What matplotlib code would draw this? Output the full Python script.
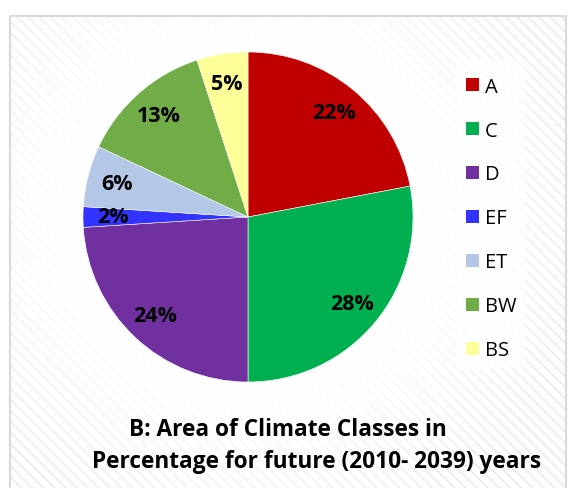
import numpy as np
import matplotlib
matplotlib.use("Agg")
import matplotlib.pyplot as plt
from matplotlib.patches import Rectangle, Patch

classes = ["A", "C", "D", "EF", "ET", "BW", "BS"]
shares = [22, 28, 24, 2, 6, 13, 5]
colors = ["#C00000", "#00B050", "#7030A0", "#3333FF", "#B4C7E7", "#70AD47", "#FFFF99"]
title_lines = ["B: Area of Climate Classes in",
               "Percentage for future (2010- 2039) years"]

plt.rcParams['font.family'] = ['Open Sans', 'DejaVu Sans']
plt.rcParams['hatch.linewidth'] = 1.2

W, H = 571, 489
fig = plt.figure(figsize=(W / 100, H / 100), dpi=100)
fig.patch.set_facecolor("white")

# background frame with light diagonal stripes and a white glow in the middle
bg = fig.add_axes([0, 0, 1, 1])
bg.set_xlim(0, W)
bg.set_ylim(H, 0)
bg.axis("off")
bg.add_patch(Rectangle((10, 17), 556, 480, facecolor="white",
                       edgecolor="#ebebeb", linewidth=0, hatch="\\\\\\"))
yy, xx = np.mgrid[0:H, 0:W]
d = np.hypot(xx - 250, yy - 215)
glow = np.zeros((H, W, 4))
glow[..., :3] = 1.0
glow[..., 3] = np.clip(1.25 - (d / 300.0) ** 2, 0, 1)
bg.imshow(glow, extent=(0, W, H, 0), zorder=2)
bg.add_patch(Rectangle((10, 17), 556, 480, facecolor="none",
                       edgecolor="#d9d9d9", linewidth=1.5, zorder=3))
bg.add_patch(Rectangle((457, 60), 68, 310, facecolor="white",
                       edgecolor="none", alpha=0.7, zorder=3))

# pie
ax = fig.add_axes([83 / W, (H - 218 - 165) / H, 330 / W, 330 / H])
wedges, texts, autotexts = ax.pie(
    shares, colors=colors, startangle=90, counterclock=False,
    autopct="%d%%", pctdistance=0.82, radius=1,
    wedgeprops=dict(edgecolor="white", linewidth=0.4),
    textprops=dict(fontsize=15.5, fontweight="bold", color="black"))
ax.set_xlim(-1, 1)
ax.set_ylim(-1, 1)
ax.set_aspect("auto")

# legend
handles = [Patch(facecolor=c, edgecolor="none") for c in colors]
fig.legend(handles, classes, loc="upper left", bbox_to_anchor=(458 / W, 1 - 69.5 / H),
           frameon=False, fontsize=14.5, handlelength=0.65, handleheight=0.65,
           handletextpad=0.3, labelspacing=1.19, borderaxespad=0)

fig.text(129 / W, 1 - 430 / H, title_lines[0], ha="left", va="center",
         fontsize=16.3, fontweight="bold")
fig.text(92 / W, 1 - 462 / H, title_lines[1], ha="left", va="center",
         fontsize=16.3, fontweight="bold")

fig.savefig("out.png", dpi=100)
